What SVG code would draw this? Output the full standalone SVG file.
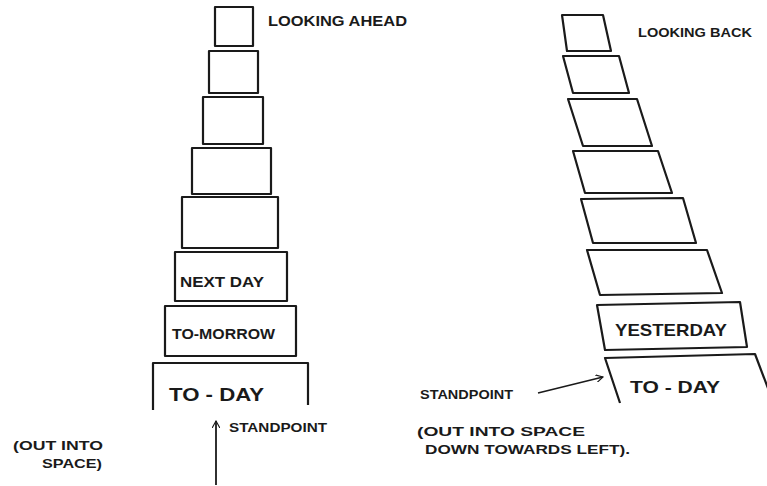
<svg xmlns="http://www.w3.org/2000/svg" width="767" height="486" viewBox="0 0 767 486">
<style>
.b{fill:none;stroke:#1a1a1a;stroke-width:2.2;stroke-linejoin:round}
.t{font-family:"Liberation Sans",Arial,sans-serif;font-weight:bold;fill:#1a1a1a}
.c{fill:none;stroke:#1a1a1a;stroke-width:1.8}
</style>
<defs>
<marker id="ah" viewBox="0 0 10 10" refX="9" refY="5" markerWidth="8" markerHeight="8" orient="auto" markerUnits="userSpaceOnUse">
<path d="M0,0 L9,5 L0,10" fill="none" stroke="#1a1a1a" stroke-width="1.4"/>
</marker>
</defs>
<rect width="767" height="486" fill="#fff"/>
<g id="left-stack">
<g id="L1"><rect class="b" x="215" y="7" width="38" height="39"/></g>
<g id="L2"><rect class="b" x="209" y="51" width="49" height="42"/></g>
<g id="L3"><rect class="b" x="203" y="97" width="60" height="47"/></g>
<g id="L4"><rect class="b" x="192" y="148" width="79" height="46"/></g>
<g id="L5"><rect class="b" x="182" y="197" width="96" height="51"/></g>
<g id="L6"><rect class="b" x="175" y="252" width="112" height="49"/><text class="t" x="180" y="287" font-size="15" textLength="84" lengthAdjust="spacingAndGlyphs">NEXT DAY</text></g>
<g id="L7"><rect class="b" x="165" y="306" width="131" height="50"/><text class="t" x="172" y="339" font-size="14" textLength="103" lengthAdjust="spacingAndGlyphs">TO-MORROW</text></g>
<g id="L8"><path class="b" d="M153,410 L153,363 L308,363 L308,405"/><text class="t" x="169" y="401" font-size="18" textLength="95" lengthAdjust="spacingAndGlyphs">TO - DAY</text></g>
</g>
<g id="right-stack">
<g id="R1"><polygon class="b" points="562,15 603,15 611,51 567,51"/></g>
<g id="R2"><polygon class="b" points="563,56 619,56 629,93 573,93"/></g>
<g id="R3"><polygon class="b" points="568,99 637,99 652,146 583,146"/></g>
<g id="R4"><polygon class="b" points="573,151 658,151 672,193 585,193"/></g>
<g id="R5"><polygon class="b" points="581,199 683,198 696,243 593,243"/></g>
<g id="R6"><polygon class="b" points="587,250 707,250 722,293 600,295"/></g>
<g id="R7"><polygon class="b" points="597,305 740,302 747,347 605,350"/><text class="t" x="615" y="336" font-size="17" textLength="112" lengthAdjust="spacingAndGlyphs">YESTERDAY</text></g>
<g id="R8"><path class="b" d="M620,403 L605,358 L755,354 L769,391"/><text class="t" x="630" y="393" font-size="17" textLength="90" lengthAdjust="spacingAndGlyphs">TO - DAY</text></g>
</g>
<g id="labels">
<text class="t" x="268" y="26" font-size="14" textLength="139" lengthAdjust="spacingAndGlyphs">LOOKING AHEAD</text>
<text class="t" x="638" y="37" font-size="12" textLength="114" lengthAdjust="spacingAndGlyphs">LOOKING BACK</text>
<text class="t" x="229" y="432" font-size="13" textLength="98" lengthAdjust="spacingAndGlyphs">STANDPOINT</text>
<text class="t" x="13" y="450" font-size="13" textLength="90" lengthAdjust="spacingAndGlyphs">(OUT INTO</text>
<text class="t" x="42" y="468" font-size="13" textLength="60" lengthAdjust="spacingAndGlyphs">SPACE)</text>
<text class="t" x="420" y="399" font-size="12" textLength="93" lengthAdjust="spacingAndGlyphs">STANDPOINT</text>
<text class="t" x="417" y="436" font-size="12" textLength="168" lengthAdjust="spacingAndGlyphs">(OUT INTO SPACE</text>
<text class="t" x="425" y="454" font-size="12" textLength="205" lengthAdjust="spacingAndGlyphs">DOWN TOWARDS LEFT).</text>
</g>
<g id="connectors">
<line class="c" x1="216" y1="485" x2="216" y2="421" marker-end="url(#ah)"/>
<line class="c" x1="538" y1="393" x2="603" y2="377" marker-end="url(#ah)"/>
</g>
</svg>
